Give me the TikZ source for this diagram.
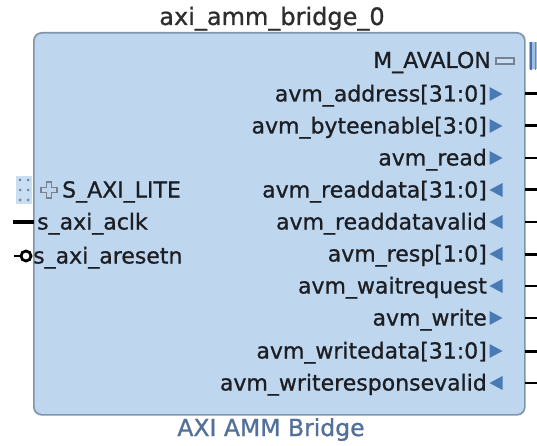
\documentclass[tikz,border=0pt]{standalone}
\usepackage{fontspec}
\setmainfont[FakeBold=0.9]{DejaVu Sans}
\definecolor{boxfill}{RGB}{190,215,238}
\definecolor{bord}{RGB}{128,148,172}
\definecolor{arr}{RGB}{72,122,182}
\definecolor{txt}{RGB}{28,30,36}
\definecolor{ttl}{RGB}{45,45,45}
\definecolor{btm}{RGB}{82,112,152}
\definecolor{portfill}{RGB}{200,222,242}
\definecolor{dotc}{RGB}{120,130,145}
\definecolor{busfill}{RGB}{160,190,225}
\definecolor{busline}{RGB}{70,110,170}
\begin{document}
\begin{tikzpicture}[x=1pt,y=-1pt,
  font=\fontsize{22}{25}\selectfont,
  lbl/.style={anchor=base east, inner sep=0pt, text=txt},
  llbl/.style={anchor=base west, inner sep=0pt, text=txt},
  pinthick/.style={line width=3pt, black},
  pinthin/.style={line width=1.8pt, black}]
\useasboundingbox (0,0) rectangle (537,446);
\fill[white] (0,0) rectangle (537,446);
% block
\node[draw=bord, fill=boxfill, line width=1.7pt, rounded corners=8pt,
  minimum width=491pt, minimum height=382pt, anchor=north west, inner sep=0pt] (blk) at (33,32) {};
% title and bottom label
\node[anchor=base, inner sep=0pt, text=ttl, font=\fontsize{24}{28}\selectfont] (title) at (272,25) {axi\_amm\_bridge\_0};
\node[anchor=base, inner sep=0pt, text=btm, font=\fontsize{23.5}{26}\selectfont] (sub) at (271,436) {AXI AMM Bridge};
% M_AVALON
\node[lbl] (mav) at (491,68) {M\_AVALON};
\node[draw=dotc, fill=portfill, line width=2pt, minimum width=18pt, minimum height=6pt, inner sep=0pt] (mavsym) at (505,61.5) {};
\node[fill=busfill, minimum width=9pt, minimum height=27pt, inner sep=0pt] (mavbus) at (533,56) {};
\draw[busline, line width=2pt] ([xshift=-2.3pt]mavbus.north) -- ([xshift=-2.3pt]mavbus.south);
\draw[dotc, line width=1.4pt] ([xshift=2.6pt]mavbus.north) -- ([xshift=2.6pt]mavbus.south);
% right ports
\foreach \n/\y/\t/\d/\w in {
  a/94/avm\_address[31:0]/1/pinthick,
  b/126/avm\_byteenable[3:0]/1/pinthick,
  c/158/avm\_read/1/pinthin,
  d/190/avm\_readdata[31:0]/0/pinthick,
  e/222/avm\_readdatavalid/0/pinthin,
  f/254/avm\_resp[1:0]/0/pinthick,
  g/286/avm\_waitrequest/0/pinthin,
  h/318/avm\_write/1/pinthin,
  i/351/avm\_writedata[31:0]/1/pinthick,
  j/383/avm\_writeresponsevalid/0/pinthin} {
  \node[lbl] (r\n) at (487,\y+7.5) {\t};
  \coordinate (p\n) at (525,\y);
  \coordinate (q\n) at (537,\y);
  \draw[\w] (p\n) -- (q\n);
  \ifnum\d=1
    \fill[arr] (489.5,\y-7) -- (502.5,\y) -- (489.5,\y+7) -- cycle;
  \else
    \fill[arr] (502.5,\y-7) -- (489.5,\y) -- (502.5,\y+7) -- cycle;
  \fi
}
% left: S_AXI_LITE
\node[fill=portfill, minimum width=16pt, minimum height=28pt, anchor=north west, inner sep=0pt] (sport) at (16,176) {};
\foreach \xx in {20,28} \foreach \yy in {180,190,200}
  \fill[dotc] (\xx,\yy) circle (1.5pt);
\draw[dotc, line width=1.5pt, fill=boxfill]
  (46.5,182) -- (51.5,182) -- (51.5,187.5) -- (57,187.5) -- (57,192.5) -- (51.5,192.5)
  -- (51.5,198) -- (46.5,198) -- (46.5,192.5) -- (41,192.5) -- (41,187.5) -- (46.5,187.5) -- cycle;
\node[llbl] (saxi) at (62,197.5) {S\_AXI\_LITE};
% s_axi_aclk
\coordinate (ck0) at (13,222);
\coordinate (ck1) at (34,222);
\draw[line width=3.4pt] (ck0) -- (ck1);
\node[llbl] (clk) at (37,229.5) {s\_axi\_aclk};
% s_axi_aresetn
\coordinate (rs0) at (14,256);
\node[circle, draw=black, line width=2.8pt, inner sep=0pt, minimum size=10pt] (rsc) at (26,256) {};
\draw[line width=2.8pt] (rs0) -- (rsc.west);
\node[llbl] (rst) at (33,263.5) {s\_axi\_aresetn};
\end{tikzpicture}
\end{document}
